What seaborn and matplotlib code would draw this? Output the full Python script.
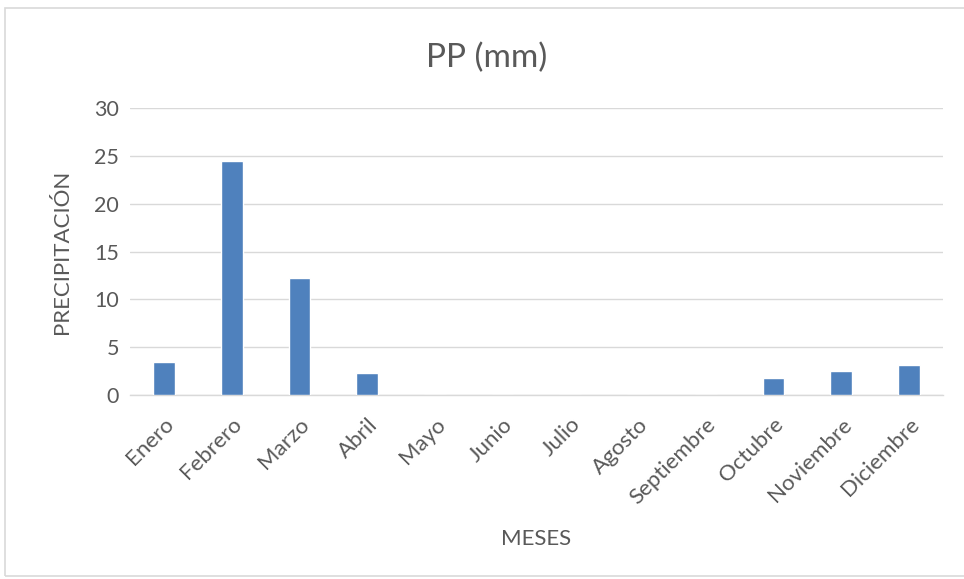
import matplotlib
matplotlib.use("Agg")
import matplotlib.pyplot as plt
import seaborn as sns
import pandas as pd
from matplotlib.patches import Rectangle

meses = ["Enero", "Febrero", "Marzo", "Abril", "Mayo", "Junio", "Julio",
         "Agosto", "Septiembre", "Octubre", "Noviembre", "Diciembre"]
pp_mm = [3.4, 24.5, 12.25, 2.3, 0, 0, 0, 0, 0, 1.75, 2.55, 3.1]

df = pd.DataFrame({"mes": meses, "pp": pp_mm})

sns.set_theme(style="white")
plt.rcParams["font.family"] = ["Lato", "DejaVu Sans"]

text_color = "#595959"
grid_color = "#d9d9d9"

fig = plt.figure(figsize=(9.64, 5.79), dpi=100)
ax = fig.add_axes([0.135, 0.318, 0.843, 0.495])

sns.barplot(data=df, x="mes", y="pp", color="#4f81bd", width=0.32,
            saturation=1, ax=ax, zorder=3)

ax.set_ylim(0, 30)
ax.set_yticks(range(0, 31, 5))
ax.set_xlim(-0.5, len(meses) - 0.5)
ax.yaxis.grid(True, color=grid_color, linewidth=1, zorder=0)
for s in ["top", "right", "left"]:
    ax.spines[s].set_visible(False)
ax.spines["bottom"].set_color(grid_color)
ax.spines["bottom"].set_linewidth(1)

ax.tick_params(axis="y", length=0, colors=text_color, labelsize=15.5, pad=8)
ax.tick_params(axis="x", length=0, colors=text_color, labelsize=16, pad=14)
plt.setp(ax.get_xticklabels(), rotation=45, ha="right", rotation_mode="anchor")

ax.set_xlabel("MESES", color=text_color, fontsize=16, labelpad=15)
ax.set_ylabel("PRECIPITACIÓN", color=text_color, fontsize=16, labelpad=16)
fig.text(0.505, 0.9, "PP (mm)", ha="center", va="center",
         color=text_color, fontsize=24)

fig.patches.append(Rectangle((0.005, 0.006), 1.2, 0.98, transform=fig.transFigure,
                             fill=False, edgecolor=grid_color, linewidth=1.2))

fig.savefig("out.png", dpi=100)
